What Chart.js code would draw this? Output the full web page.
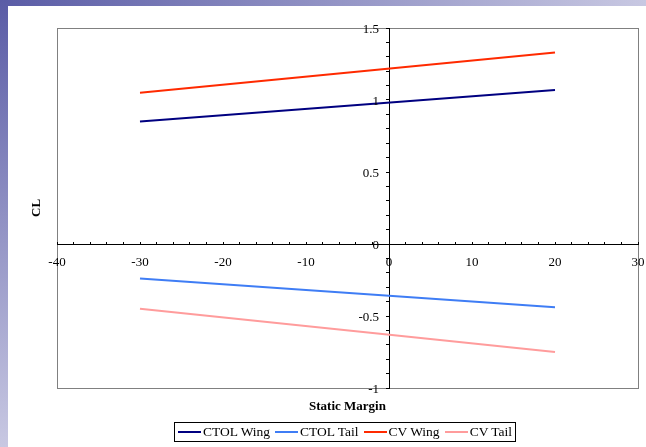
<!DOCTYPE html>
<html>
<head>
<meta charset="utf-8">
<script src="https://cdn.jsdelivr.net/npm/chart.js@4/dist/chart.umd.min.js"></script>
<style>
  html, body { margin: 0; padding: 0; background: #fff; }
  #wrap { position: relative; width: 646px; height: 447px; overflow: hidden; background: #fff; }
  #topBand { position: absolute; left: 0; top: 0; width: 646px; height: 6px;
             background: linear-gradient(to right, #5a5ca6, #c8c8e2); }
  #leftBand { position: absolute; left: 0; top: 0; width: 8px; height: 447px;
              background: linear-gradient(to bottom, #5a5ca6, #c8c8e2); }
  canvas { position: absolute; left: 0; top: 0; }
  .title { position: absolute; font-family: 'Liberation Serif', 'Times New Roman', serif;
           font-weight: bold; font-size: 13px; color: #000; white-space: nowrap; }
  #xTitle { left: 57px; width: 581px; top: 398px; text-align: center; }
  #yTitle { left: 36px; top: 208px; transform: translate(-50%, -50%) rotate(-90deg); }
  #legend { position: absolute; left: 174px; top: 422px; width: 337px; height: 18px;
            border: 1px solid #000; display: flex; align-items: center; padding-left: 3px;
            box-sizing: content-box; white-space: nowrap; overflow: hidden;
            font-family: 'Liberation Serif', 'Times New Roman', serif; font-size: 13.5px; color: #000; }
  .item { display: flex; align-items: center; margin-right: 5px; flex-shrink: 0; }
  .swatch { width: 23px; height: 2px; margin-right: 2px; flex-shrink: 0; }
</style>
</head>
<body>
<div id="wrap">
  <div id="topBand"></div>
  <div id="leftBand"></div>
  <canvas id="chart" width="646" height="447"></canvas>
  <div class="title" id="xTitle">Static Margin</div>
  <div class="title" id="yTitle">CL</div>
  <div id="legend"></div>
</div>
<script>
// static margin values where each line starts and ends
const staticMargin = [-30, 20];

const seriesNames = ['CTOL Wing', 'CTOL Tail', 'CV Wing', 'CV Tail'];
const ctolWing = [0.85, 1.07];
const ctolTail = [-0.24, -0.44];
const cvWing = [1.05, 1.33];
const cvTail = [-0.45, -0.75];

const xTickLabels = [-40, -30, -20, -10, 0, 10, 20, 30];
const yTickLabels = [-1, -0.5, 0, 0.5, 1, 1.5];

const seriesColors = ['#000080', '#3f7df5', '#ff2a00', '#ff9c9c'];

(function () {
    'use strict';

    const allValues = [ctolWing, ctolTail, cvWing, cvTail];
    const labelFont = "13px 'Liberation Serif', 'Times New Roman', serif";

    const datasets = allValues.map((vals, i) => ({
        label: seriesNames[i],
        data: staticMargin.map((x, j) => ({ x: x, y: vals[j] })),
        borderColor: seriesColors[i],
        backgroundColor: seriesColors[i],
        borderWidth: 2,
        pointRadius: 0,
        tension: 0,
        fill: false
    }));

    // gray frame round the plot area
    const frame = {
        id: 'frame',
        beforeDraw(chart) {
            const a = chart.chartArea;
            const c = chart.ctx;
            c.save();
            c.strokeStyle = '#808080';
            c.lineWidth = 1;
            c.strokeRect(Math.round(a.left) + 0.5, Math.round(a.top) + 0.5,
                Math.round(a.right - a.left), Math.round(a.bottom - a.top));
            c.restore();
        }
    };

    // tick labels of the centred axes, placed through the scales
    // (chart.js adds their padding to the layout, which squeezes the plot)
    const tickLabels = {
        id: 'tickLabels',
        afterDraw(chart) {
            const xs = chart.scales.x;
            const ys = chart.scales.y;
            const c = chart.ctx;
            const x0 = xs.getPixelForValue(0);
            const y0 = ys.getPixelForValue(0);
            c.save();
            c.font = labelFont;
            c.fillStyle = '#000';
            c.textBaseline = 'middle';
            c.textAlign = 'right';
            yTickLabels.forEach(v => {
                c.fillText(String(v), x0 - 10, ys.getPixelForValue(v) + 1.5);
            });
            c.textAlign = 'center';
            xTickLabels.forEach(v => {
                c.fillText(String(v), xs.getPixelForValue(v), y0 + 19);
            });
            c.restore();
        }
    };

    new Chart(document.getElementById('chart'), {
        type: 'line',
        data: { datasets: datasets },
        options: {
            responsive: false,
            animation: false,
            layout: { padding: { left: 57, right: 8, top: 28, bottom: 59 } },
            plugins: {
                legend: { display: false },
                tooltip: { enabled: false }
            },
            scales: {
                x: {
                    type: 'linear',
                    min: xTickLabels[0],
                    max: xTickLabels[xTickLabels.length - 1],
                    position: { y: 0 },
                    ticks: {
                        stepSize: 2,
                        autoSkip: false,
                        maxRotation: 0,
                        padding: 0,
                        callback: () => ''
                    },
                    // negative length: ticks point up, as in the original
                    grid: { drawOnChartArea: false, drawTicks: true, tickLength: -3, tickColor: '#000' },
                    border: { display: true, color: '#000', width: 1 }
                },
                y: {
                    type: 'linear',
                    min: yTickLabels[0],
                    max: yTickLabels[yTickLabels.length - 1],
                    position: { x: 0 },
                    ticks: {
                        stepSize: 0.1,
                        autoSkip: false,
                        padding: 0,
                        callback: () => ''
                    },
                    grid: { drawOnChartArea: false, drawTicks: true, tickLength: 3, tickColor: '#000' },
                    border: { display: true, color: '#000', width: 1 }
                }
            }
        },
        plugins: [frame, tickLabels]
    });

    // legend with a box round it, as in the original
    const legend = document.getElementById('legend');
    seriesNames.forEach((name, i) => {
        const item = document.createElement('div');
        item.className = 'item';
        const sw = document.createElement('div');
        sw.className = 'swatch';
        sw.style.background = seriesColors[i];
        const txt = document.createElement('span');
        txt.textContent = name;
        item.appendChild(sw);
        item.appendChild(txt);
        legend.appendChild(item);
    });
})();
</script>
</body>
</html>
